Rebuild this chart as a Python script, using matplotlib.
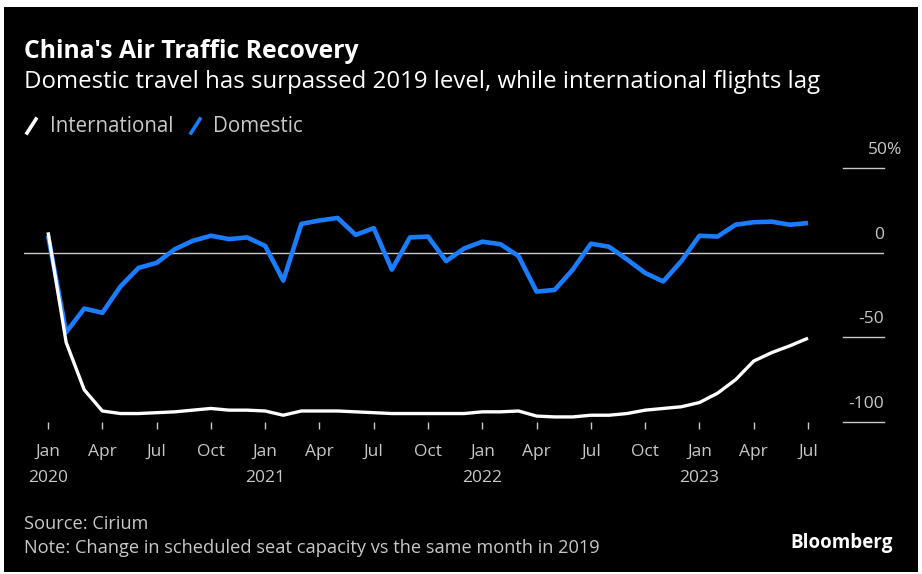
import numpy as np
import matplotlib.pyplot as plt
from matplotlib.patches import Rectangle
from matplotlib.transforms import blended_transform_factory

# monthly change in scheduled seat capacity vs same month of 2019 (%), Jan 2020 - Jul 2023
international = [12, -53, -81, -93.5, -95, -95, -94.5, -94, -93, -92, -93, -93,
                 -93.5, -96, -93.5, -93.5, -93.5, -94, -94.5, -95, -95, -95, -95, -95,
                 -94, -94, -93.5, -96.5, -97, -97, -96, -96, -95, -93, -92, -91,
                 -88.5, -83, -75, -64, -59, -55, -50.5]
domestic = [10, -47, -33, -35.5, -20, -9, -6, 2, 7, 10, 8, 9,
            4, -16.5, 17, 19, 20.5, 10.5, 14.5, -10, 9, 9.5, -5, 2.5,
            6.5, 5, -2, -23, -22, -10, 5.3, 3.5, -4, -12, -17, -5,
            10, 9.5, 16.5, 18, 18.3, 16.5, 17.5]
month_names = ["Jan", "Apr", "Jul", "Oct"]
years = [2020, 2021, 2022, 2023]
y_ticks = [0, -50, -100]
y_labels = ["0", "-50", "-100"]

grey = "#c8c8c8"
blue = "#1a7cff"
font = ["Open Sans", "DejaVu Sans"]
plt.rcParams["font.family"] = font

fig = plt.figure(figsize=(9.22, 5.74), dpi=100, facecolor="white")
fig.patches.append(Rectangle((4 / 922, 2 / 574), 914 / 922, 565 / 574,
                             transform=fig.transFigure, facecolor="black",
                             edgecolor="none", zorder=-10))

ax = fig.add_axes([24 / 922, (574 - 422) / 574, 860 / 922, (422 - 168) / 574])
ax.set_facecolor("none")
for s in ax.spines.values():
    s.set_visible(False)

x = np.arange(len(international))
ax.plot(x, domestic, color=blue, lw=3.3, solid_capstyle="butt", zorder=3, clip_on=False)
ax.plot(x, international, color="white", lw=2.4, solid_capstyle="butt", zorder=4, clip_on=False)

ax.set_xlim(-1.33, 46.2)
ax.set_ylim(-100, 50)

# gridlines: full zero line, short stubs for the rest
ax.axhline(0, color=grey, lw=1, zorder=2)
for v in [50, -50, -100]:
    ax.axhline(v, xmin=0.952, xmax=1.0, color=grey, lw=1, zorder=2, clip_on=False)

tr = blended_transform_factory(ax.transAxes, ax.transData)
for v, lab in zip(y_ticks, y_labels):
    ax.text(1.0, v + 6, lab, transform=tr, ha="right", va="bottom",
            color=grey, fontsize=12.5)
ax.text(1.021, 56, "50%", transform=tr, ha="right", va="bottom", color=grey, fontsize=12.5)

ax.set_yticks([])
ticks = list(range(0, len(international), 3))
labels = []
for t in ticks:
    m = month_names[(t // 3) % 4]
    if t % 12 == 0:
        labels.append(m + "\n" + str(years[t // 12]))
    else:
        labels.append(m)
ax.set_xticks(ticks)
ax.set_xticklabels(labels, linespacing=1.8)
ax.tick_params(axis="x", direction="out", length=5, width=1, color=grey,
               labelcolor=grey, labelsize=12.5, pad=11)

fig.text(24 / 922, 1 - 52 / 574, "China's Air Traffic Recovery", color="white",
         fontsize=17.8, fontweight="bold", va="center")
fig.text(24 / 922, 1 - 82 / 574, "Domestic travel has surpassed 2019 level, while international flights lag",
         color="white", fontsize=17.3, va="center")

# legend
ly = 1 - 126 / 574
fig.lines.append(plt.Line2D([27 / 922, 36 / 922], [ly - 7 / 574, ly + 7 / 574], color="white",
                            lw=2.6, transform=fig.transFigure))
fig.text(50 / 922, ly, "International", color=grey, fontsize=14.8, va="center")
fig.lines.append(plt.Line2D([191 / 922, 200 / 922], [ly - 7 / 574, ly + 7 / 574], color=blue,
                            lw=2.6, transform=fig.transFigure))
fig.text(213 / 922, ly, "Domestic", color=grey, fontsize=14.8, va="center")

fig.text(24 / 922, 1 - 524 / 574, "Source: Cirium", color=grey, fontsize=13.15, va="center")
fig.text(24 / 922, 1 - 548 / 574, "Note: Change in scheduled seat capacity vs the same month in 2019",
         color=grey, fontsize=13.15, va="center")
fig.text(893 / 922, 1 - 543 / 574, "Bloomberg", color="white", fontsize=13.5,
         fontweight="bold", ha="right", va="center")

fig.savefig("out.png", dpi=100, facecolor="white")
